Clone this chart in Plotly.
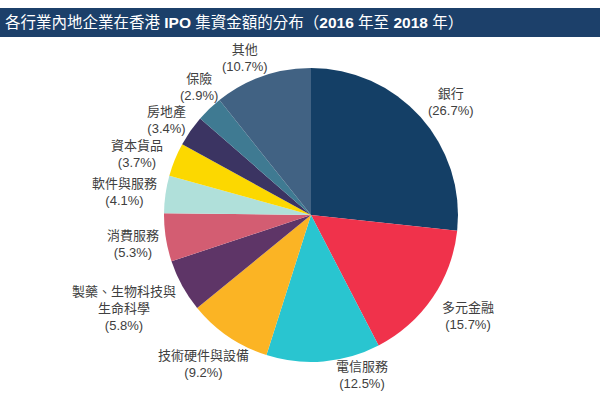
import math
import plotly.graph_objects as go

# ---- data ----
categories = ["銀行", "多元金融", "電信服務", "技術硬件與設備", "製藥、生物科技與<br>生命科學",
              "消費服務", "軟件與服務", "資本貨品", "房地產", "保險", "其他"]
shares = [26.7, 15.7, 12.5, 9.2, 5.8, 5.3, 4.1, 3.7, 3.4, 2.9, 10.7]
title_text = "各行業內地企業在香港 <b>IPO</b> 集資金額的分布（<b>2016</b> 年至 <b>2018</b> 年）"

# ---- style ----
colors = ["#143f66", "#f0324b", "#29c5d0", "#fbb424", "#5e3567", "#d35d72",
          "#b0e0da", "#fcd800", "#3b3462", "#3f7a92", "#416283"]
W, H = 600, 394
cx, cy, R = 311, 215, 147          # pie centre / radius in pixels
rx, ry = 188, 161                  # label ellipse
nudge = {0: (0, -5), 1: (2, 10), 2: (35, 0), 3: (-2, 16), 4: (-22, 16),
         5: (8, 4), 8: (10, -3), 9: (18, -12), 10: (-4, -5)}
FONT = "Liberation Sans, Arial, Noto Sans CJK TC, sans-serif"

fig = go.Figure(go.Pie(
    labels=categories, values=shares, sort=False, direction="clockwise",
    rotation=0, marker=dict(colors=colors, line=dict(width=0)),
    textinfo="none", hoverinfo="label+percent", showlegend=False,
    domain=dict(x=[(cx - R) / W, (cx + R) / W], y=[(H - cy - R) / H, (H - cy + R) / H]),
))

total = sum(shares)
cum = 0.0
annotations = []
for i, (lab, v) in enumerate(zip(categories, shares)):
    mid = (cum + v / 2) / total * 2 * math.pi
    cum += v
    px = cx + rx * math.sin(mid)
    py = cy - ry * math.cos(mid)
    dx, dy = nudge.get(i, (0, 0))
    px += dx
    py += dy
    annotations.append(dict(
        x=px / W, y=1 - py / H, xref="paper", yref="paper",
        text=f"{lab}<br>({v:.1f}%)", showarrow=False, align="center",
        xanchor="center", yanchor="middle",
        font=dict(family=FONT, size=13, color="#404040"),
    ))

annotations.append(dict(
    x=3 / W, y=1 - 22.5 / H, xref="paper", yref="paper", text=title_text,
    showarrow=False, xanchor="left", yanchor="middle",
    font=dict(family=FONT, size=15.5, color="white"),
))

fig.update_layout(
    width=W, height=H, margin=dict(l=0, r=0, t=0, b=0),
    paper_bgcolor="white", plot_bgcolor="white",
    annotations=annotations,
    shapes=[dict(type="rect", xref="paper", yref="paper", x0=0, x1=1,
                 y0=1 - 37 / H, y1=1 - 8 / H, fillcolor="#1c406a",
                 line=dict(width=0), layer="below")],
)

fig.write_html("out.html", config={"displayModeBar": False},
               post_script="document.body.style.margin='0';")
